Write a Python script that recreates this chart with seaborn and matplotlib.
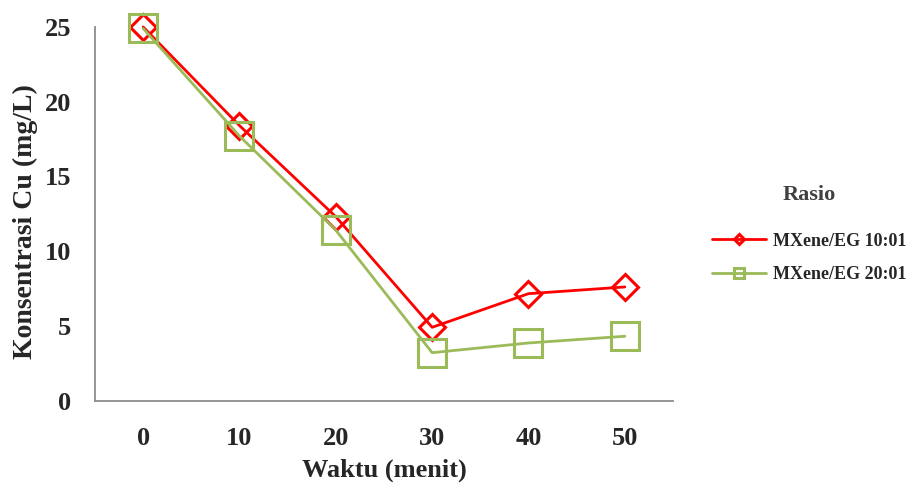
import matplotlib
matplotlib.use("Agg")
import matplotlib.pyplot as plt
import seaborn as sns
import pandas as pd

# Cu concentration over time for two MXene/EG ratios
waktu = [0, 10, 20, 30, 40, 50]
cu_10_01 = [25.0, 18.4, 12.3, 4.9, 7.15, 7.6]
cu_20_01 = [24.9, 17.7, 11.4, 3.2, 3.85, 4.3]
series_names = ["MXene/EG 10:01", "MXene/EG 20:01"]
y_ticks = [0, 5, 10, 15, 20, 25]

sns.set_theme(style="white")
plt.rcParams["font.family"] = ["Liberation Serif", "DejaVu Serif"]
plt.rcParams["font.weight"] = "bold"

fig = plt.figure(figsize=(9.1, 4.84), dpi=100)
ax = fig.add_axes([95 / 910, 1 - 400.5 / 484, (673 - 95) / 910, (400.5 - 27) / 484])

df1 = pd.DataFrame({"Waktu": waktu, "Cu": cu_10_01})
df2 = pd.DataFrame({"Waktu": waktu, "Cu": cu_20_01})

sns.lineplot(data=df1, x="Waktu", y="Cu", ax=ax, color="#FF0000", linewidth=2,
             marker="D", markersize=13.5, markerfacecolor="none",
             markeredgecolor="#FF0000", markeredgewidth=2.2,
             label=series_names[0], clip_on=False)
sns.lineplot(data=df2, x="Waktu", y="Cu", ax=ax, color="#9BBB59", linewidth=2,
             marker="s", markersize=19.5, markerfacecolor="none",
             markeredgecolor="#9BBB59", markeredgewidth=2.2,
             label=series_names[1], clip_on=False)

ax.set_xlim(-5, 55)
ax.set_ylim(0, 25)
ax.set_xticks(waktu)
ax.set_xticklabels([str(w) for w in waktu])
ax.set_yticks(y_ticks)
ax.set_yticklabels([str(t) for t in y_ticks])
ax.tick_params(axis="both", length=0, labelsize=19)
ax.tick_params(axis="y", pad=17)
ax.tick_params(axis="x", pad=19)
for lab in ax.get_xticklabels() + ax.get_yticklabels():
    lab.set_fontweight("bold")

for side in ["top", "right"]:
    ax.spines[side].set_visible(False)
for side in ["left", "bottom"]:
    ax.spines[side].set_color("#8C8C8C")
    ax.spines[side].set_linewidth(1.3)

ax.set_xlabel("Waktu (menit)", fontsize=19, fontweight="bold", labelpad=6)
ax.set_ylabel("Konsentrasi Cu (mg/L)", fontsize=20, fontweight="bold", labelpad=8)
ax.yaxis.set_label_coords(-0.098, 0.48)

leg = ax.legend(title="Rasio", loc="center left",
                bbox_to_anchor=(696 / 910, 1 - 234 / 484),
                bbox_transform=fig.transFigure, frameon=False,
                prop={"family": "Liberation Serif", "weight": "bold", "size": 13},
                markerscale=0.37, handlelength=3.0, handletextpad=0.35,
                labelspacing=0.9)
leg.get_title().set_fontsize(16)
leg.get_title().set_fontweight("bold")
leg.get_title().set_color("#404040")
leg._legend_box.sep = 20

fig.savefig("out.png", dpi=100)
